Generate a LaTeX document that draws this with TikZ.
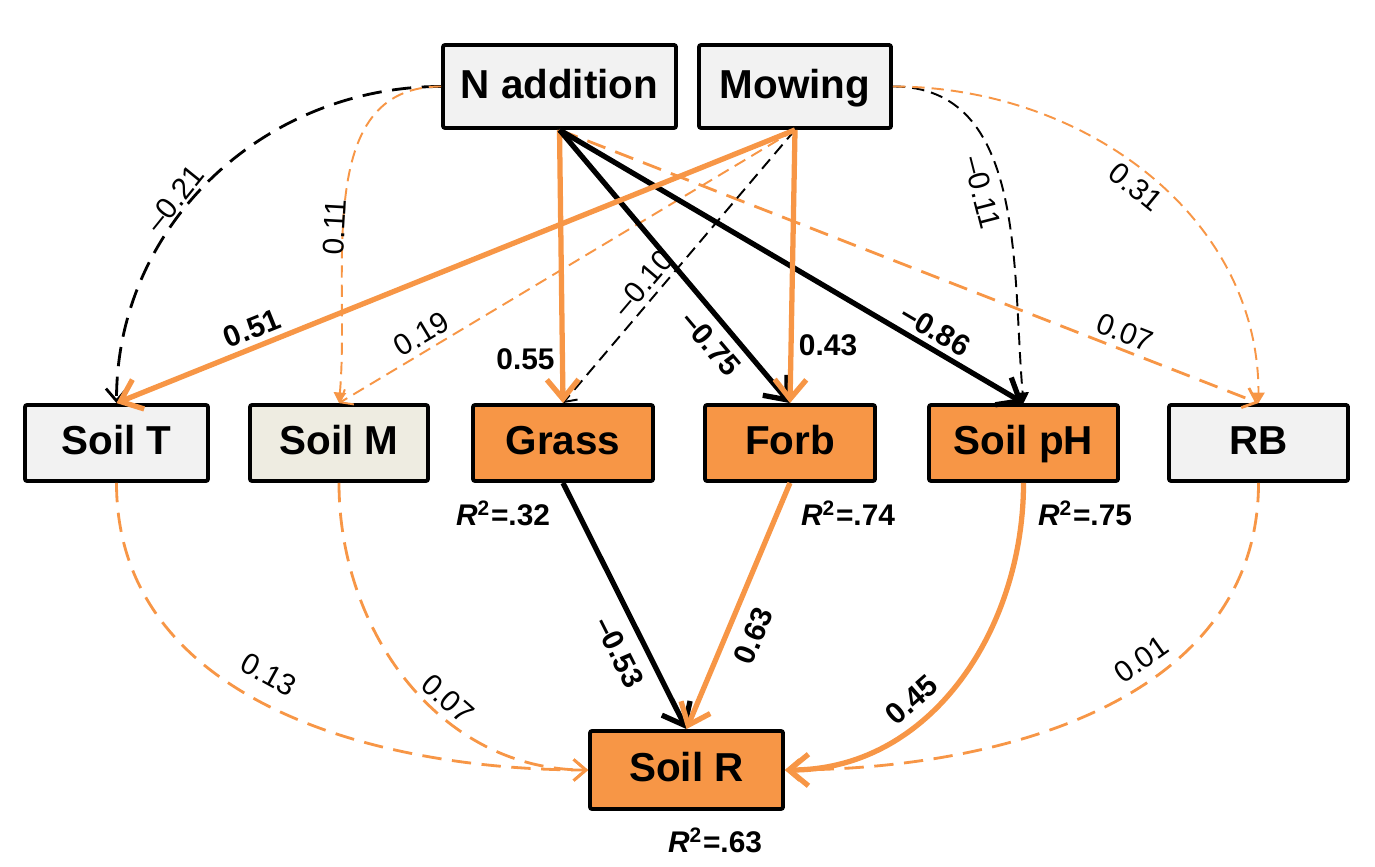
\documentclass[tikz,border=0pt]{standalone}
\usepackage{fontspec}
\setmainfont{Liberation Sans}
\usetikzlibrary{arrows.meta}

\definecolor{semorange}{HTML}{F79646}
\definecolor{boxgray}{HTML}{F2F2F2}
\definecolor{boxtan}{HTML}{EEECE1}

\tikzset{
  var/.style={draw=black, line width=1.1pt, rounded corners=0.6pt, inner sep=0pt,
    minimum height=0.76cm, text height=0.68em, text depth=0pt,
    font=\fontsize{11.5}{13}\selectfont\bfseries},
  exo/.style={var, fill=boxgray, minimum height=0.83cm},
  endo/.style={var, fill=semorange},
  sigpath/.style={line width=1.5pt, -{Straight Barb[length=5.5pt,width=9pt]}},
  nspath/.style={line width=0.55pt, dash pattern=on 3.5pt off 2pt,
    -{Straight Barb[length=3pt,width=5pt]}},
  nstri/.style={nspath, -{Triangle[length=3pt,width=3.5pt]}},
  wpath/.style={line width=0.8pt, dash pattern=on 5.5pt off 3pt,
    -{Straight Barb[length=3.5pt,width=6pt]}},
  coef/.style={font=\fontsize{8.5}{10}\selectfont, inner sep=1.5pt, text=black},
  bcoef/.style={coef, font=\fontsize{8.5}{10}\selectfont\bfseries},
  rsq/.style={font=\fontsize{8.5}{10}\selectfont\bfseries}
}

\begin{document}
\begin{tikzpicture}
\useasboundingbox (0,0) rectangle (13.75,8.66);

% treatments
\node[exo, minimum width=2.33cm] (nadd) at (5.595,7.795) {N addition};
\node[exo, minimum width=1.92cm] (mow) at (7.95,7.795) {Mowing};

% middle row
\node[var, fill=boxgray, minimum width=1.83cm] (soilT) at (1.165,4.23) {Soil T};
\node[var, fill=boxtan, minimum width=1.78cm] (soilM) at (3.39,4.23) {Soil M};
\node[endo, minimum width=1.80cm] (grass) at (5.63,4.23) {Grass};
\node[endo, minimum width=1.70cm] (forb) at (7.90,4.23) {Forb};
\node[endo, minimum width=1.89cm] (soilpH) at (10.235,4.23) {Soil pH};
\node[var, fill=boxgray, minimum width=1.79cm] (rb) at (12.585,4.23) {RB};

% response
\node[endo, minimum width=1.93cm, minimum height=0.78cm] (soilR) at (6.865,0.96) {Soil R};

% explained variance
\node[rsq] (r2grass) at (5.03,3.53) {\textit{R}\textsuperscript{2}=.32};
\node[rsq] (r2forb) at (8.48,3.53) {\textit{R}\textsuperscript{2}=.74};
\node[rsq] (r2ph) at (10.85,3.53) {\textit{R}\textsuperscript{2}=.75};
\node[rsq] (r2soilR) at (7.15,0.26) {\textit{R}\textsuperscript{2}=.63};

% non-significant paths
\draw[wpath, black] (nadd.west) to[out=180,in=90]
  node[coef, sloped, above=-1pt, pos=0.58] {--0.21} (soilT.north);
\draw[nstri, semorange] (nadd.west) to[out=180,in=85]
  node[coef, sloped, above=-2.5pt, pos=0.58] {0.11} (soilM.north);
\draw[wpath, semorange] (nadd.south) --
  node[coef, sloped, above, pos=0.8] {0.07} (rb.north);
\draw[nspath, semorange] (mow.south) --
  node[coef, sloped, above, pos=0.8] {0.19} (soilM.north);
\draw[nspath, black] (mow.south) --
  node[coef, sloped, above, pos=0.6] {--0.10} (grass.north);
\draw[nstri, black] (mow.east) to[out=0,in=95]
  node[coef, sloped, below=1pt, pos=0.48] {--0.11} (soilpH.north);
\draw[nstri, semorange] (mow.east) to[out=0,in=90]
  node[coef, sloped, below, pos=0.5] {0.31} (rb.north);
\draw[wpath, semorange] (soilT.south) to[out=-90,in=180]
  node[coef, sloped, above=3pt, pos=0.47] {0.13} (soilR.west);
\draw[wpath, semorange] (soilM.south) to[out=-90,in=180]
  node[coef, sloped, above, pos=0.6] {0.07} (soilR.west);
\draw[wpath, semorange] (rb.south) to[out=-90,in=0]
  node[coef, sloped, above=1.5pt, pos=0.40] {0.01} (soilR.east);

% significant paths
\draw[sigpath, semorange] (nadd.south) --
  node[bcoef, left, pos=0.84] {0.55} (grass.north);
\draw[sigpath, black] (nadd.south) --
  node[bcoef, sloped, below=1pt, pos=0.73] {--0.75} (forb.north);
\draw[sigpath, black] (nadd.south) --
  node[bcoef, sloped, above, pos=0.79] {--0.86} (soilpH.north);
\draw[sigpath, semorange] (mow.south) --
  node[bcoef, sloped, above, pos=0.79] {0.51} (soilT.north);
\draw[sigpath, semorange] (mow.south) --
  node[bcoef, right, pos=0.79] {0.43} (forb.north);
\draw[sigpath, black] (grass.south) --
  node[bcoef, sloped, below=2pt, pos=0.64] {--0.53} (soilR.north);
\draw[sigpath, semorange] (forb.south) --
  node[bcoef, sloped, below=2pt, pos=0.58] {0.63} (soilR.north);
\draw[sigpath, semorange] (soilpH.south) to[out=-90,in=0]
  node[bcoef, sloped, above=1pt, pos=0.62] {0.45} (soilR.east);
\end{tikzpicture}
\end{document}
